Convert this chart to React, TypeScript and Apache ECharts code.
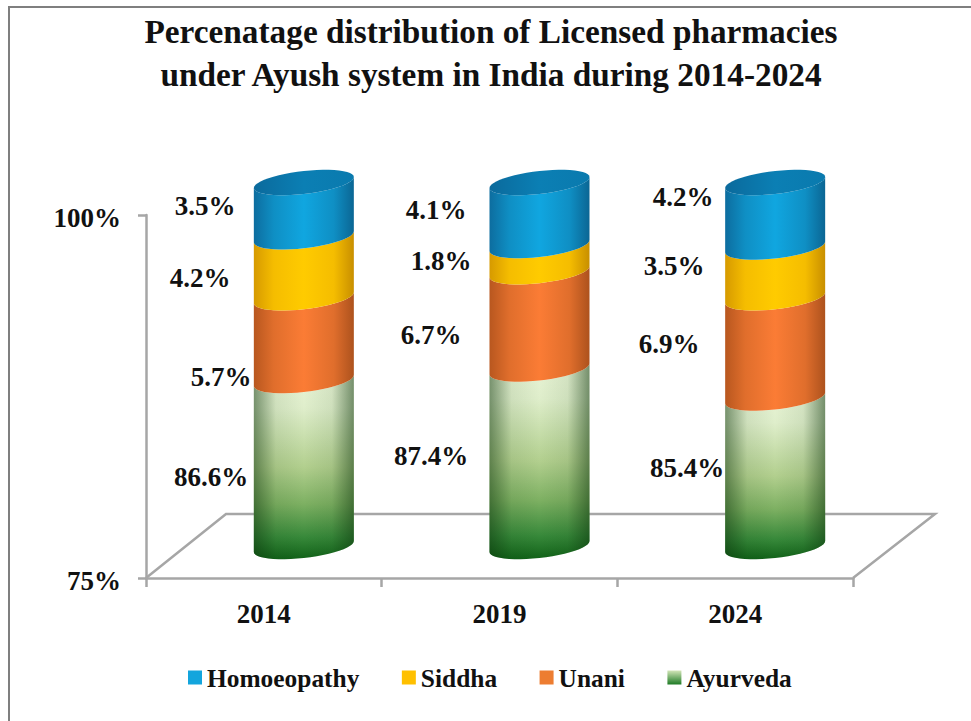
import React, { useEffect, useRef } from "react";
import * as echarts from "echarts";

const categories = ["2014", "2019", "2024"];
const ayurveda = [86.6, 87.4, 85.4];
const unani = [5.7, 6.7, 6.9];
const siddha = [4.2, 1.8, 3.5];
const homoeopathy = [3.5, 4.1, 4.2];
const seriesNames = ["Ayurveda", "Unani", "Siddha", "Homoeopathy"];
const seriesValues = [ayurveda, unani, siddha, homoeopathy];
const yTicks = [75, 100];

// hand-placed label anchors, as in the reference (series -> category -> [x, y])
const labelAnchors = [
  [[211, 477], [431, 456], [687, 468]],
  [[221, 377], [431, 335], [669, 344]],
  [[200, 278], [441, 261], [674, 266]],
  [[205, 206], [436, 210], [683, 197]],
];

const FONT = '"Liberation Serif", "Times New Roman", serif';
const DEPTH_X = 40;
const DEPTH_Y = -29;
const RX = 50;
const RY = 11.5;
const SHEAR = 5.5;
const BASE_LIFT = 2.5;
const CAP_LIFT = 3.5;

const lin = (x0: number, y0: number, x1: number, y1: number, stops: [number, string][]) =>
  new echarts.graphic.LinearGradient(x0, y0, x1, y1, stops.map(([offset, color]) => ({ offset, color })));

const sideFills = [
  () => lin(0, 0, 0, 1, [[0, "#e8f4d6"], [0.18, "#dfeecb"], [0.5, "#b2cf8e"], [0.7, "#7db062"], [0.88, "#37893a"], [1, "#116218"]]),
  () => lin(0, 0, 1, 0, [[0, "#b8571f"], [0.2, "#e06e2c"], [0.5, "#fb7c35"], [0.8, "#e06e2c"], [1, "#ad521d"]]),
  () => lin(0, 0, 1, 0, [[0, "#d69a00"], [0.2, "#f5bd00"], [0.5, "#ffcb00"], [0.8, "#f5bd00"], [1, "#c88f00"]]),
  () => lin(0, 0, 1, 0, [[0, "#0d6d9f"], [0.2, "#0f8fc4"], [0.5, "#10a6e0"], [0.8, "#0f8fc4"], [1, "#0b6694"]]),
];
const legendColors = [
  () => lin(0, 0, 0, 1, [[0, "#d3e6b8"], [1, "#1d7a24"]]),
  () => "#ed7d31",
  () => "#ffc000",
  () => "#13a5dd",
];

const front = (cx: number, cy: number, n = 24, reverse = false) => {
  const pts: number[][] = [];
  for (let i = 0; i <= n; i++) {
    const t = (Math.PI * i) / n; // 0 = right, PI = left, through the front
    pts.push([cx + RX * Math.cos(t), cy + RY * Math.sin(t) - SHEAR * Math.cos(t)]);
  }
  return reverse ? pts.reverse() : pts;
};
const ellipse = (cx: number, cy: number, n = 48) => {
  const pts: number[][] = [];
  for (let i = 0; i < n; i++) {
    const t = (2 * Math.PI * i) / n;
    pts.push([cx + RX * Math.cos(t), cy + RY * Math.sin(t) - SHEAR * Math.cos(t)]);
  }
  return pts;
};

const makeRender = (k: number) => (params: any, api: any) => {
  const i = api.value(0) as number;
  const v = api.value(1) as number;
  let base = 0;
  for (let s = 0; s < k; s++) base += seriesValues[s][i];
  const start = k === 0 ? 75 : base;
  const end = base + v;
  const cx = api.coord([i, 75])[0] + DEPTH_X;
  const y0 = api.coord([i, start])[1] + DEPTH_Y - (k === 0 ? BASE_LIFT : 0);
  const y1 = api.coord([i, end])[1] + DEPTH_Y - (k === seriesValues.length - 1 ? CAP_LIFT : 0);
  const points = [...front(cx, y0), ...front(cx, y1, 24, true)];
  const children: any[] = [
    { type: "polygon", shape: { points }, style: { fill: sideFills[k]() } },
  ];
  if (k === 0) {
    children.push({
      type: "polygon",
      shape: { points },
      style: {
        fill: lin(0, 0, 1, 0, [
          [0, "rgba(10,50,10,0.5)"], [0.22, "rgba(10,50,10,0.08)"], [0.5, "rgba(10,50,10,0)"],
          [0.78, "rgba(10,50,10,0.08)"], [1, "rgba(10,50,10,0.52)"],
        ]),
      },
    });
  }
  if (k === seriesValues.length - 1) {
    children.push({ type: "polygon", shape: { points: ellipse(cx, y1) }, style: { fill: lin(0, 0, 1, 0, [[0, "#0b6a9c"], [0.5, "#0b7fb4"], [1, "#0a7aae"]]) } });
  }
  const [lx, ly] = labelAnchors[k][i];
  children.push({
    type: "text",
    x: lx,
    y: ly,
    z2: 50,
    style: {
      text: v.toFixed(1) + "%",
      fontFamily: FONT,
      fontWeight: "bold",
      fontSize: 27,
      fill: "#111111",
      align: "center",
      verticalAlign: "middle",
    },
  });
  return { type: "group", children };
};

export default function App() {
  const ref = useRef<HTMLDivElement>(null);
  useEffect(() => {
    const chart = echarts.init(ref.current!, null, { renderer: "svg" });
    chart.setOption({
      animation: false,
      backgroundColor: "#ffffff",
      title: {
        text: "Percenatage distribution of Licensed pharmacies\nunder Ayush system in India during 2014-2024",
        left: 486,
        top: 5,
        textAlign: "center",
        textStyle: { fontFamily: FONT, fontWeight: "bold", fontSize: 33.3, lineHeight: 43, color: "#111111" },
      },
      legend: {
        data: [...seriesNames].reverse(),
        left: 188,
        top: 665,
        padding: 0,
        itemWidth: 14,
        itemHeight: 14,
        itemGap: 42.5,
        icon: "rect",
        textStyle: { fontFamily: FONT, fontWeight: "bold", fontSize: 25.4, color: "#111111" },
      },
      grid: { left: 146, top: 215, width: 707, height: 363 },
      xAxis: {
        type: "category",
        data: categories,
        axisLine: { lineStyle: { color: "#a6a6a6", width: 2.5 } },
        axisTick: { show: true, alignWithLabel: false, length: 9, lineStyle: { color: "#a6a6a6", width: 2.5 } },
        axisLabel: { fontFamily: FONT, fontWeight: "bold", fontSize: 27, color: "#111111", margin: 22 },
      },
      yAxis: {
        type: "value",
        min: yTicks[0],
        max: yTicks[1],
        interval: yTicks[1] - yTicks[0],
        splitLine: { show: false },
        axisLine: { show: true, lineStyle: { color: "#a6a6a6", width: 2.5 } },
        axisTick: { show: true, length: 8, lineStyle: { color: "#a6a6a6", width: 2.5 } },
        axisLabel: {
          formatter: "{a|{value}%}",
          margin: 25,
          rich: { a: { fontFamily: FONT, fontWeight: "bold", fontSize: 27, color: "#111111", padding: [6, 0, 0, 0] } },
        },
      },
      graphic: [
        { type: "polyline", z: 0, shape: { points: [[146, 578], [226, 514], [935, 514], [853, 578]] }, style: { fill: "none", stroke: "#a6a6a6", lineWidth: 2.5 } },
        { type: "rect", z: 0, shape: { x: 9, y: 7, width: 980, height: 740 }, style: { fill: "none", stroke: "#7f7f7f", lineWidth: 2 } },
      ],
      series: seriesNames.map((name, k) => ({
        name,
        type: "custom",
        coordinateSystem: "cartesian2d",
        clip: false,
        z: 5 + k,
        itemStyle: { color: legendColors[k]() },
        encode: { x: 0, y: 1 },
        data: seriesValues[k].map((v, i) => [i, v]),
        renderItem: makeRender(k),
      })),
    });
    return () => chart.dispose();
  }, []);
  return <div ref={ref} style={{ position: "fixed", left: 0, top: 0, width: 971, height: 721 }} />;
}
